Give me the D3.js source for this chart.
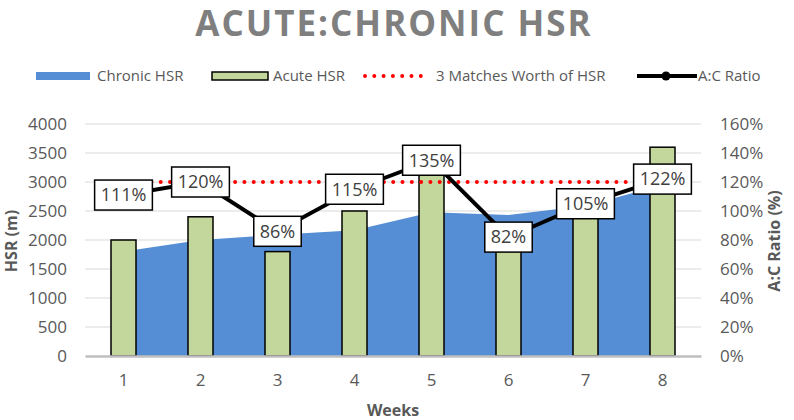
<!DOCTYPE html>
<html>
<head>
<meta charset="utf-8">
<script src="https://cdn.jsdelivr.net/npm/d3@7"></script>
<style>
  body { margin: 0; background: #fff; }
  svg text { font-family: 'Open Sans', sans-serif; }
</style>
</head>
<body>
<div id="chart"></div>
<script>
const weeks = ['1', '2', '3', '4', '5', '6', '7', '8']
const chronicHSR = [1800, 2000, 2090, 2170, 2480, 2430, 2590, 2950]
const acuteHSR = [2000, 2400, 1800, 2500, 3350, 2000, 2720, 3600]
const matchesHSR = [3000, 3000, 3000, 3000, 3000, 3000, 3000, 3000]
const acRatio = [111, 120, 86, 115, 135, 82, 105, 122]
const leftTicks = [0, 500, 1000, 1500, 2000, 2500, 3000, 3500, 4000]
const rightTicks = [0, 20, 40, 60, 80, 100, 120, 140, 160]

const W = 794
const H = 420
const plot = { left: 85, right: 701, top: 124, bottom: 356 }
const grey = '#595959'

const svg = d3.select('#chart')
  .append('svg')
  .attr('width', W)
  .attr('height', H)

const x = d3.scaleBand()
  .domain(weeks)
  .range([plot.left, plot.right])
  .padding(0)

const y = d3.scaleLinear()
  .domain([0, 4000])
  .range([plot.bottom, plot.top])

const yR = d3.scaleLinear()
  .domain([0, 160])
  .range([plot.bottom, plot.top])

const cx = d => x(d) + x.bandwidth() / 2

// title
svg.append('text')
  .attr('x', 394)
  .attr('y', 36)
  .attr('text-anchor', 'middle')
  .attr('fill', '#7f7f7f')
  .attr('font-size', 35)
  .attr('font-weight', 700)
  .attr('letter-spacing', 2)
  .text('ACUTE:CHRONIC HSR')

// gridlines
svg.append('g')
  .selectAll('line')
  .data(leftTicks.slice(1))
  .join('line')
  .attr('x1', plot.left)
  .attr('x2', plot.right)
  .attr('y1', d => y(d))
  .attr('y2', d => y(d))
  .attr('stroke', '#d9d9d9')
  .attr('stroke-width', 1)

// left axis
const leftAxis = svg.append('g')
  .attr('transform', `translate(${plot.left},0)`)
  .call(d3.axisLeft(y).tickValues(leftTicks).tickSize(0).tickPadding(18).tickFormat(d3.format('d')))
leftAxis.select('.domain').remove()
leftAxis.selectAll('text')
  .attr('font-size', 17)
  .attr('fill', grey)
  .attr('font-family', "'Open Sans', sans-serif")

// right axis
const rightAxis = svg.append('g')
  .attr('transform', `translate(${plot.right},0)`)
  .call(d3.axisRight(yR).tickValues(rightTicks).tickSize(0).tickPadding(19).tickFormat(d => d + '%'))
rightAxis.select('.domain').remove()
rightAxis.selectAll('text')
  .attr('font-size', 17)
  .attr('fill', grey)
  .attr('font-family', "'Open Sans', sans-serif")

// chronic area
const area = d3.area()
  .x((d, i) => cx(weeks[i]))
  .y0(y(0))
  .y1(d => y(d))

svg.append('path')
  .datum(chronicHSR)
  .attr('d', area)
  .attr('fill', '#558ed5')

// acute bars
const barW = 25
svg.append('g')
  .selectAll('rect')
  .data(acuteHSR)
  .join('rect')
  .attr('x', (d, i) => cx(weeks[i]) - barW / 2)
  .attr('y', d => y(d))
  .attr('width', barW)
  .attr('height', d => y(0) - y(d))
  .attr('fill', '#c3d69b')
  .attr('stroke', '#000')
  .attr('stroke-width', 1.5)

// bottom axis
const bottomAxis = svg.append('g')
  .attr('transform', `translate(0,${plot.bottom})`)
  .call(d3.axisBottom(x).tickSize(0).tickPadding(18))
bottomAxis.select('.domain')
  .attr('stroke', '#bfbfbf')
  .attr('stroke-width', 2.5)
bottomAxis.selectAll('text')
  .attr('font-size', 17)
  .attr('fill', grey)
  .attr('font-family', "'Open Sans', sans-serif")

// 3 matches line
svg.append('path')
  .datum(matchesHSR)
  .attr('d', d3.line().x((d, i) => cx(weeks[i])).y(d => y(d)))
  .attr('fill', 'none')
  .attr('stroke', '#ff0000')
  .attr('stroke-width', 4)
  .attr('stroke-linecap', 'round')
  .attr('stroke-dasharray', '0 9.3')

// ratio line
svg.append('path')
  .datum(acRatio)
  .attr('d', d3.line().x((d, i) => cx(weeks[i])).y(d => yR(d)))
  .attr('fill', 'none')
  .attr('stroke', '#000')
  .attr('stroke-width', 4)

// ratio labels
const labels = svg.append('g')
  .selectAll('g')
  .data(acRatio)
  .join('g')
  .attr('transform', (d, i) => `translate(${cx(weeks[i])},${yR(d)})`)

labels.append('text')
  .attr('text-anchor', 'middle')
  .attr('dy', '0.35em')
  .attr('font-size', 18)
  .attr('fill', '#404040')
  .text(d => d + '%')
  .each(function () {
    const b = this.getBBox()
    d3.select(this.parentNode).insert('rect', 'text')
      .attr('x', -b.width / 2 - 6)
      .attr('y', -15)
      .attr('width', b.width + 12)
      .attr('height', 30)
      .attr('fill', '#fff')
      .attr('stroke', '#000')
      .attr('stroke-width', 1.5)
  })

// axis titles
svg.append('text')
  .attr('transform', `translate(17,241) rotate(-90)`)
  .attr('text-anchor', 'middle')
  .attr('font-size', 16)
  .attr('font-weight', 700)
  .attr('fill', grey)
  .text('HSR (m)')

svg.append('text')
  .attr('transform', `translate(780,241) rotate(-90)`)
  .attr('text-anchor', 'middle')
  .attr('font-size', 16)
  .attr('font-weight', 700)
  .attr('fill', grey)
  .text('A:C Ratio (%)')

svg.append('text')
  .attr('x', 393)
  .attr('y', 416)
  .attr('text-anchor', 'middle')
  .attr('font-size', 16)
  .attr('font-weight', 700)
  .attr('fill', grey)
  .text('Weeks')

// legend
const legend = svg.append('g').attr('font-size', 15).attr('fill', grey)
const ly = 76

legend.append('rect')
  .attr('x', 36).attr('y', ly - 4).attr('width', 54).attr('height', 8)
  .attr('fill', '#558ed5')
legend.append('text').attr('x', 97).attr('y', ly).attr('dy', '0.35em').text('Chronic HSR')

legend.append('rect')
  .attr('x', 212).attr('y', ly - 4).attr('width', 56).attr('height', 8)
  .attr('fill', '#c3d69b').attr('stroke', '#000').attr('stroke-width', 1.5)
legend.append('text').attr('x', 273).attr('y', ly).attr('dy', '0.35em').text('Acute HSR')

legend.append('line')
  .attr('x1', 365).attr('x2', 425).attr('y1', ly).attr('y2', ly)
  .attr('stroke', '#ff0000').attr('stroke-width', 4)
  .attr('stroke-linecap', 'round').attr('stroke-dasharray', '0 9.3')
legend.append('text').attr('x', 436).attr('y', ly).attr('dy', '0.35em').text('3 Matches Worth of HSR')

legend.append('line')
  .attr('x1', 637).attr('x2', 697).attr('y1', ly).attr('y2', ly)
  .attr('stroke', '#000').attr('stroke-width', 4)
legend.append('circle')
  .attr('cx', 666).attr('cy', ly).attr('r', 4.5).attr('fill', '#000')
legend.append('text').attr('x', 698).attr('y', ly).attr('dy', '0.35em').text('A:C Ratio')
</script>
</body>
</html>
